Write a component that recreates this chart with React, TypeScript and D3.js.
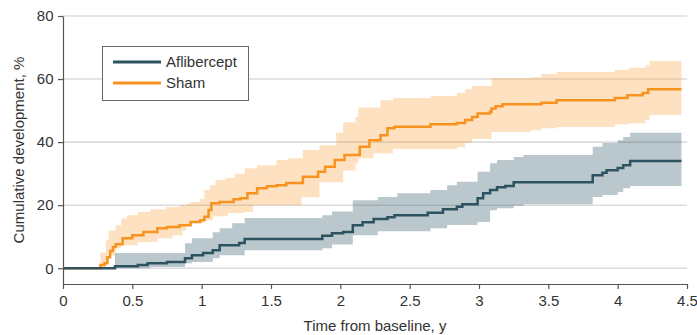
import { useEffect, useRef } from "react";
import * as d3 from "d3";

// Kaplan-Meier style cumulative curves (time in years, value in %)
const aflTime = [0, 0.375, 0.54, 0.61, 0.75, 0.88, 0.93, 1.01, 1.08, 1.13, 1.27, 1.31, 1.87, 1.94, 2.02, 2.09, 2.16, 2.24, 2.34, 2.39, 2.63, 2.74, 2.84, 2.88, 2.99, 3.03, 3.08, 3.13, 3.19, 3.25, 3.82, 3.89, 3.92, 4.0, 4.04, 4.09, 4.46];
const aflValue = [0, 0.6, 1.0, 1.6, 2.0, 3.2, 4.1, 4.8, 5.7, 7.3, 8.0, 9.3, 10.3, 11.1, 11.5, 13.6, 14.6, 15.6, 16.2, 16.8, 17.6, 18.7, 19.5, 20.3, 22.2, 23.8, 24.8, 25.7, 26.1, 27.3, 29.5, 30.3, 31.1, 31.8, 32.7, 34.0, 34.0];

const aflBandTime = [0.375, 0.63, 0.88, 0.93, 1.01, 1.08, 1.13, 1.22, 1.31, 1.87, 1.94, 2.09, 2.27, 2.41, 2.65, 2.77, 2.84, 2.99, 3.08, 3.13, 3.25, 3.32, 3.82, 3.89, 4.0, 4.04, 4.09, 4.46];
const aflLower = [0, 0.4, 1.6, 2.0, 2.0, 3.2, 4.1, 4.1, 5.7, 6.3, 7.5, 10.5, 11.7, 11.7, 12.7, 13.7, 13.7, 14.7, 18.4, 19.0, 19.8, 20.3, 22.6, 23.2, 24.2, 25.4, 26.1, 26.1];
const aflUpper = [4.8, 4.8, 7.9, 9.5, 9.5, 11.4, 12.7, 14.3, 15.9, 16.8, 18.0, 21.6, 22.6, 23.8, 24.8, 26.3, 27.4, 30.6, 33.3, 34.3, 35.3, 35.9, 38.5, 39.7, 40.6, 41.6, 43.0, 43.0];

const shamTime = [0, 0.27, 0.3, 0.32, 0.34, 0.36, 0.38, 0.43, 0.5, 0.58, 0.68, 0.75, 0.84, 0.92, 0.99, 1.02, 1.05, 1.07, 1.13, 1.23, 1.28, 1.33, 1.4, 1.47, 1.54, 1.61, 1.73, 1.84, 1.89, 1.96, 2.03, 2.14, 2.21, 2.29, 2.34, 2.39, 2.65, 2.84, 2.9, 2.95, 2.99, 3.08, 3.09, 3.12, 3.17, 3.45, 3.56, 3.98, 4.07, 4.18, 4.22, 4.46];
const shamValue = [0, 1.0, 1.6, 3.5, 5.5, 6.7, 7.6, 9.5, 10.5, 11.5, 12.7, 13.1, 13.6, 14.7, 15.2, 16.3, 18.5, 20.6, 21.0, 21.9, 22.2, 23.8, 25.4, 26.0, 26.3, 27.0, 29.0, 30.6, 32.2, 34.3, 35.9, 38.5, 40.6, 42.2, 44.4, 44.9, 45.7, 46.1, 47.0, 48.0, 49.1, 49.6, 50.7, 51.4, 52.0, 52.5, 53.3, 54.0, 54.9, 55.6, 56.8, 56.8];

const shamBandTime = [0.27, 0.31, 0.33, 0.38, 0.42, 0.46, 0.54, 0.63, 0.68, 0.74, 0.79, 0.84, 0.86, 0.89, 0.92, 0.99, 1.02, 1.06, 1.08, 1.1, 1.17, 1.19, 1.24, 1.31, 1.37, 1.4, 1.54, 1.62, 1.72, 1.73, 1.85, 1.97, 2.02, 2.11, 2.13, 2.24, 2.29, 2.38, 2.65, 2.84, 2.9, 2.95, 3.09, 3.37, 3.45, 3.56, 3.98, 4.08, 4.2, 4.23, 4.46];
const shamLower = [0.5, 1.5, 4, 6.3, 7.3, 7.3, 8.3, 8.3, 9.5, 9.5, 10.5, 10.5, 12, 13.6, 14.6, 14.6, 15.2, 15.2, 16.5, 16.5, 16.5, 17.5, 17.5, 17.8, 20, 20, 20, 20, 22.5, 22.5, 27.3, 27.3, 31, 33.3, 34.9, 36.5, 36.5, 37.8, 37.8, 38.4, 39.7, 41, 43.2, 43.8, 44.4, 44.8, 45.7, 46, 47, 48.6, 48.6];
const shamUpper = [5, 9, 12, 13.6, 15.8, 16.8, 17.8, 18.7, 18.7, 19.4, 19.4, 20, 20, 20.5, 21, 22, 24.8, 26.3, 26.3, 28, 28.6, 28.6, 30, 31.7, 31.7, 32.7, 34.3, 34.9, 34.9, 37.5, 39, 43, 46.3, 48, 51, 51, 53.3, 54, 54.6, 55.6, 56.8, 57.8, 60.3, 60.6, 61.6, 62.2, 62.9, 63.6, 64.4, 65.7, 65.7];

const xTicks = [0, 0.5, 1, 1.5, 2, 2.5, 3, 3.5, 4, 4.5];
const yTicks = [0, 20, 40, 60, 80];
const seriesNames = ["Aflibercept", "Sham"];

const W = 697;
const H = 335;
const M = { top: 16, right: 10, bottom: 51, left: 63 };
const FONT = "'Liberation Sans', Arial, sans-serif";
const TEXT = "#333";
const AXIS = "#555";
const DARK = "#2d5260";
const ORANGE = "#f7931e";

const App = () => {
  const svgRef = useRef<SVGSVGElement>(null);

  useEffect(() => {
    const svg = d3.select(svgRef.current);
    svg.selectAll("*").remove();

    const x = d3.scaleLinear().domain([0, 4.5]).range([M.left, W - M.right]);
    const y = d3.scaleLinear().domain([-5, 80]).range([H - M.bottom, M.top]);

    // gridlines
    svg
      .append("g")
      .selectAll("line")
      .data(yTicks)
      .join("line")
      .attr("x1", x(0))
      .attr("x2", x(4.5))
      .attr("y1", (d) => y(d))
      .attr("y2", (d) => y(d))
      .attr("stroke", "#dcdcdc")
      .attr("stroke-width", 1.6);

    const band = (times: number[], lo: number[], hi: number[]) =>
      d3
        .area<number>()
        .curve(d3.curveStepAfter)
        .x((_, i) => x(times[i]))
        .y0((_, i) => y(lo[i]))
        .y1((_, i) => y(hi[i]))(times);

    const line = (times: number[], vals: number[]) =>
      d3
        .line<number>()
        .curve(d3.curveStepAfter)
        .x((_, i) => x(times[i]))
        .y((_, i) => y(vals[i]))(times);

    svg.append("path").attr("d", band(shamBandTime, shamLower, shamUpper)).attr("fill", ORANGE).attr("fill-opacity", 0.28);
    svg.append("path").attr("d", band(aflBandTime, aflLower, aflUpper)).attr("fill", "#2e5566").attr("fill-opacity", 0.33);

    svg
      .append("path")
      .attr("d", line(shamTime, shamValue))
      .attr("fill", "none")
      .attr("stroke", ORANGE)
      .attr("stroke-width", 2.5);
    svg
      .append("path")
      .attr("d", line(aflTime, aflValue))
      .attr("fill", "none")
      .attr("stroke", DARK)
      .attr("stroke-width", 2.5);

    // axes
    const xAxis = svg
      .append("g")
      .attr("transform", `translate(0,${H - M.bottom})`)
      .call(d3.axisBottom(x).tickValues(xTicks).tickSize(5).tickSizeOuter(0).tickFormat((d) => String(d)));
    const yAxis = svg
      .append("g")
      .attr("transform", `translate(${M.left},0)`)
      .call(d3.axisLeft(y).tickValues(yTicks).tickSize(5).tickSizeOuter(0));

    [xAxis, yAxis].forEach((g) => {
      g.select(".domain").attr("stroke", AXIS).attr("stroke-width", 1.2);
      g.selectAll(".tick line").attr("stroke", AXIS).attr("stroke-width", 1.2);
      g.selectAll(".tick text").attr("fill", TEXT).attr("font-size", 15).attr("font-family", FONT);
    });
    xAxis.selectAll(".tick text").attr("dy", "0.95em");
    yAxis.selectAll(".tick text").attr("dx", "-0.1em");

    // axis titles
    svg
      .append("text")
      .attr("x", (M.left + W - M.right) / 2)
      .attr("y", 331)
      .attr("text-anchor", "middle")
      .attr("fill", TEXT)
      .attr("font-size", 15)
      .attr("font-family", FONT)
      .text("Time from baseline, y");
    svg
      .append("text")
      .attr("transform", "rotate(-90)")
      .attr("x", -(M.top + H - M.bottom) / 2)
      .attr("y", 24)
      .attr("text-anchor", "middle")
      .attr("fill", TEXT)
      .attr("font-size", 15)
      .attr("font-family", FONT)
      .text("Cumulative development, %");

    // legend
    const lg = svg.append("g").attr("transform", "translate(102,46)");
    lg.append("rect")
      .attr("x", 0.5)
      .attr("y", 0.5)
      .attr("width", 146)
      .attr("height", 54)
      .attr("fill", "white")
      .attr("stroke", "#666")
      .attr("stroke-width", 1);
    seriesNames.forEach((name, i) => {
      const cy = 16 + i * 21;
      lg.append("line")
        .attr("x1", 11)
        .attr("x2", 59)
        .attr("y1", cy)
        .attr("y2", cy)
        .attr("stroke", i === 0 ? DARK : ORANGE)
        .attr("stroke-width", 3);
      lg.append("text")
        .attr("x", 64)
        .attr("y", cy)
        .attr("dy", "0.35em")
        .attr("fill", TEXT)
        .attr("font-size", 15)
        .attr("font-family", FONT)
        .text(name);
    });
  }, []);

  return <svg ref={svgRef} width={W} height={H} style={{ position: "absolute", left: 0, top: 0 }}></svg>;
};

export default App;
